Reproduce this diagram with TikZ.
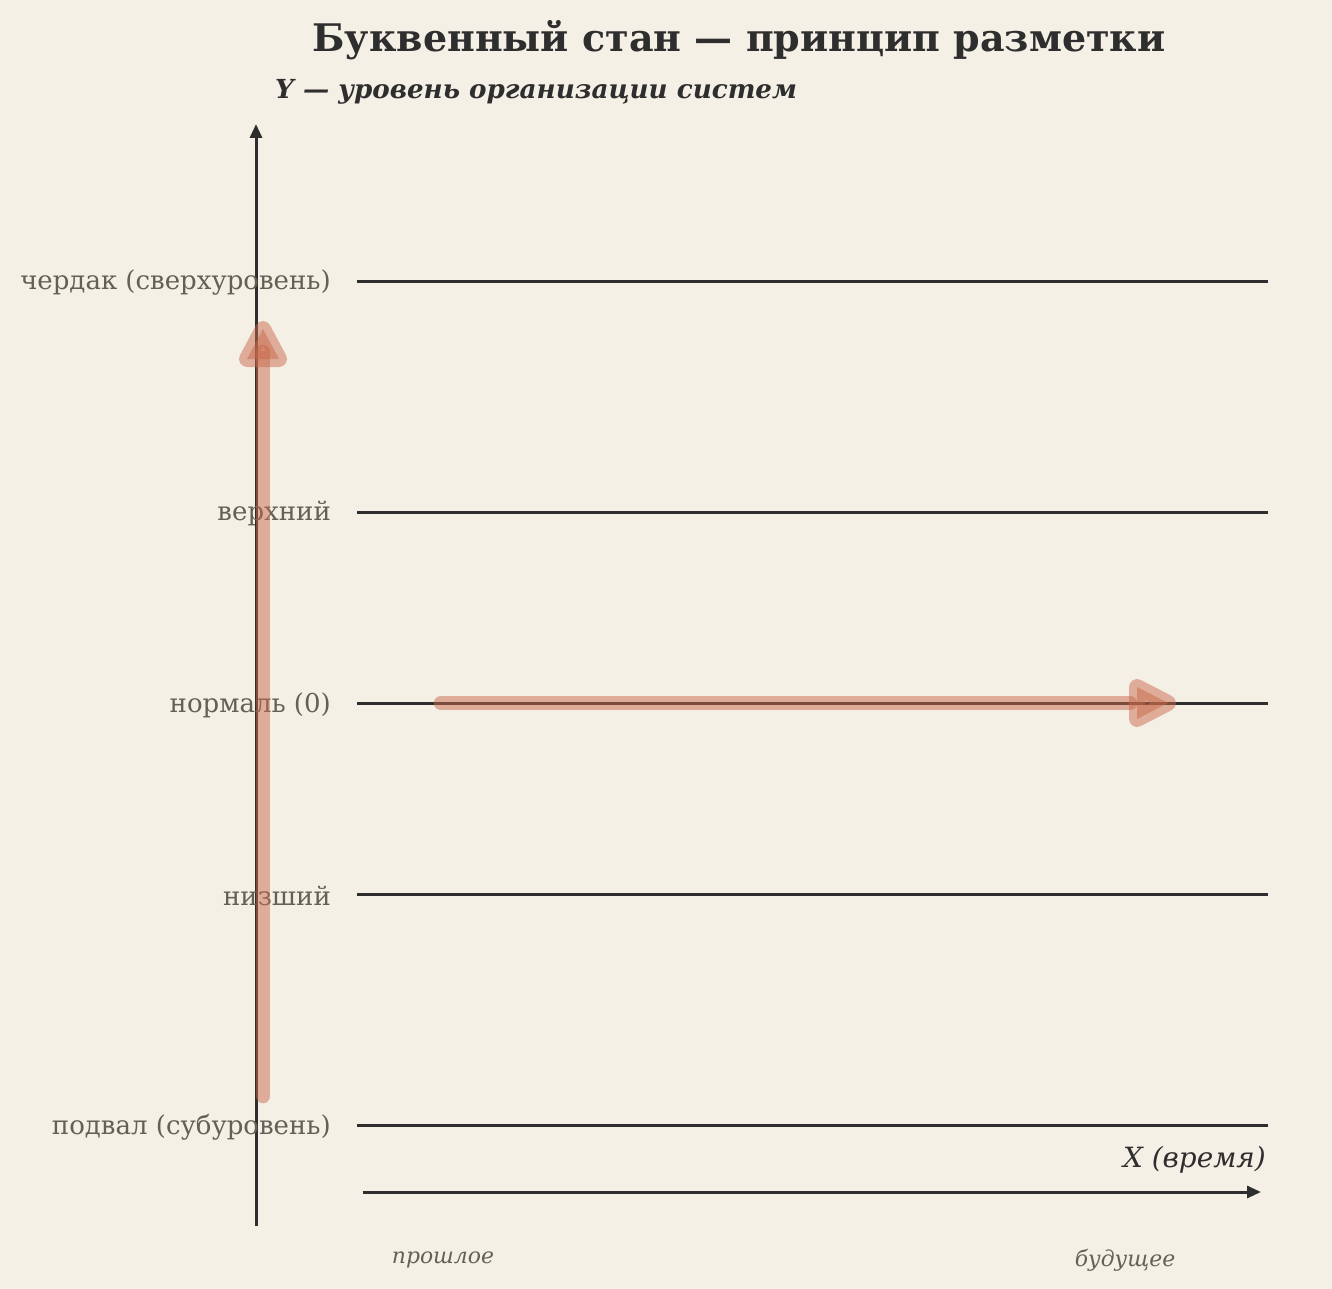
\documentclass[tikz,border=0pt]{standalone}
\usepackage{fontspec}
\setmainfont{DejaVu Serif}
\usetikzlibrary{arrows.meta}
\definecolor{bg}{RGB}{245,240,230}
\definecolor{ink}{RGB}{46,46,46}
\definecolor{lab}{RGB}{100,96,86}
\definecolor{rust}{RGB}{200,105,75}
\tikzset{
  level/.style={ink, line width=3pt},
  levlabel/.style={anchor=east, text=lab, font=\fontsize{26}{26}\selectfont, inner sep=0pt},
  axisline/.style={ink, line width=3pt, -{Triangle[length=14pt,width=12pt]}},
  redshaft/.style={rust, line width=14.5pt, line cap=round, opacity=0.5},
  redhead/.style={draw=rust, line width=16pt, line join=round, fill=rust, draw opacity=0.5, fill opacity=0.5},
}
\begin{document}
\begin{tikzpicture}[x=1pt,y=-1pt]
\useasboundingbox (0,0) rectangle (1332,1289);
\fill[bg] (0,0) rectangle (1332,1289);
% title
\node (title) at (739,40) {\fontsize{38}{38}\selectfont\bfseries\color{ink}Буквенный стан — принцип разметки};
\node[anchor=west, inner sep=0pt] (ylab) at (275,92) {\fontsize{26.2}{26}\selectfont\bfseries\itshape\color{ink}Y — уровень организации систем};
% vertical axis
\coordinate (ybot) at (256,1226);
\coordinate (ytop) at (256,124);
\draw[axisline] (ybot) -- (ytop);
% levels
\foreach \n/\y/\t in {L1/281/чердак (сверхуровень), L2/512/верхний, L3/703/нормаль (0), L4/894/низший, L5/1125/подвал (субуровень)}{
  \coordinate (\n a) at (357,\y);
  \coordinate (\n b) at (1268,\y);
  \draw[level] (\n a) -- (\n b);
  \node[levlabel] (\n t) at (331,\y+2) {\t};
}
% x axis
\coordinate (xl) at (363,1192);
\coordinate (xr) at (1261,1192);
\draw[axisline] (xl) -- (xr);
\node[anchor=base east, inner sep=0pt] (xlab) at (1266,1167) {\fontsize{27.9}{28}\selectfont\itshape\color{ink}X (время)};
\node[inner sep=0pt] (past) at (443,1260) {\fontsize{21.9}{22}\selectfont\itshape\color{lab}прошлое};
\node[inner sep=0pt] (fut) at (1125,1260) {\fontsize{21.9}{22}\selectfont\itshape\color{lab}будущее};
% red arrows
\coordinate (v0) at (263,1096);
\coordinate (v1) at (263,352);
\draw[redshaft] (v0) -- (v1);
\path[redhead] (247,359) -- (279,359) -- (263,329) -- cycle;
\coordinate (h0) at (441,703);
\coordinate (h1) at (1130,703);
\draw[redshaft] (h0) -- (h1);
\path[redhead] (1137,687) -- (1137,719) -- (1168,703) -- cycle;
\end{tikzpicture}
\end{document}
